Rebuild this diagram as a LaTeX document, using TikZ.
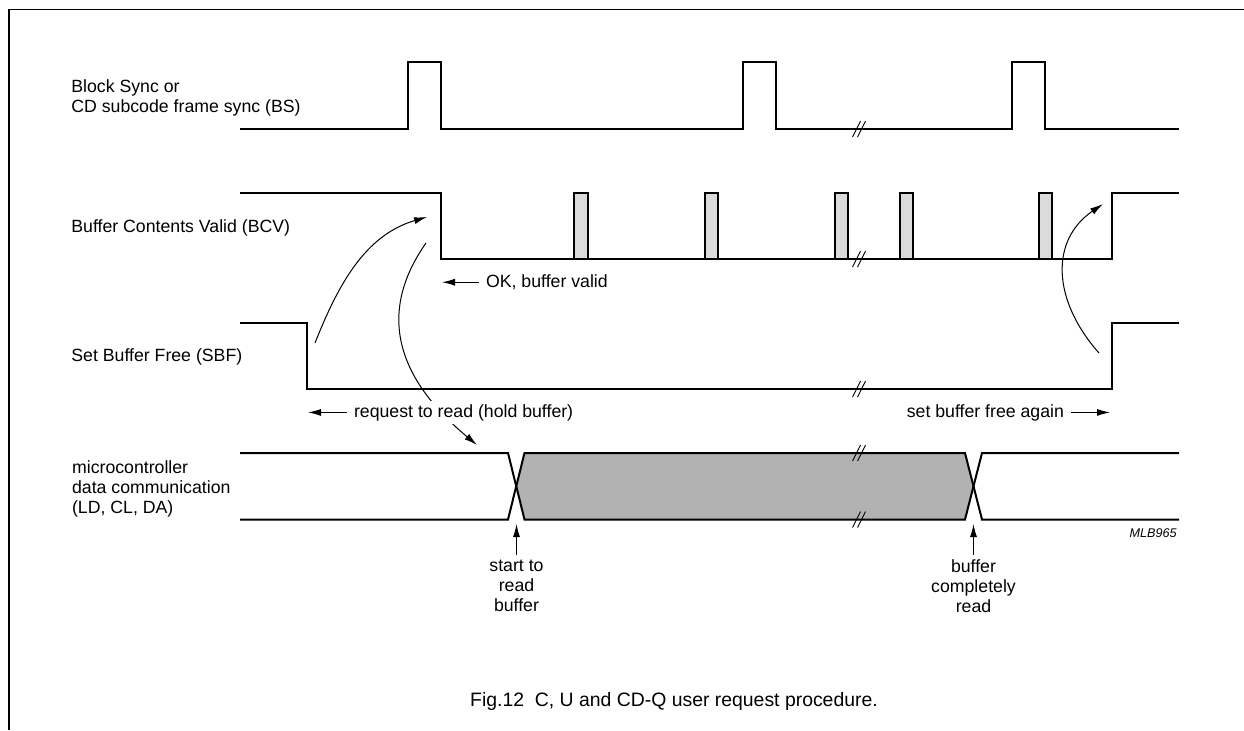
\documentclass[tikz,border=0pt]{standalone}
\usepackage{fontspec}
\setmainfont{Liberation Sans}
\usetikzlibrary{arrows.meta}
\definecolor{datagray}{gray}{0.70}
\definecolor{pulsegray}{gray}{0.86}
\begin{document}
\begin{tikzpicture}[x=0.5pt,y=-0.5pt,
  sig/.style={line width=1pt, line join=miter},
  arr/.style={line width=0.5pt,-{Latex[length=6.5pt,width=3.5pt]}},
  brk/.style={line width=0.45pt},
  lbl/.style={font=\fontsize{8.85pt}{10pt}\selectfont, inner sep=0pt, align=left},
  note/.style={font=\fontsize{8.85pt}{10pt}\selectfont},
  under/.style={font=\fontsize{8.85pt}{10pt}\selectfont, align=center, inner sep=2pt, anchor=north},
]
\useasboundingbox (0,0) rectangle (1244,730);
% frame
\draw[line width=0.7pt] (9,730) -- (9,9.3) -- (1244,9.3);

% signal labels
\node[lbl, anchor=north west] (lbs) at (71,79.3) {Block Sync or\\CD subcode frame sync (BS)};
\node[lbl, anchor=base west] (lbcv) at (71,232) {Buffer Contents Valid (BCV)};
\node[lbl, anchor=base west] (lsbf) at (71,361.7) {Set Buffer Free (SBF)};
\node[lbl, anchor=north west] (lmc) at (71.7,460.6) {microcontroller\\data communication\\(LD, CL, DA)};

% BS
\draw[sig] (240,129) -- (407.5,129) -- (407.5,62) -- (441,62) -- (441,129)
  -- (742.5,129) -- (742.5,62) -- (776,62) -- (776,129)
  -- (1012,129) -- (1012,62) -- (1045,62) -- (1045,129) -- (1179,129);

% BCV
\foreach \a/\b in {574/588, 705/718, 835/848, 900/913, 1038.5/1052}
  \draw[sig, fill=pulsegray] (\a,192.5) rectangle (\b,259);
\draw[sig] (240,192.5) -- (441,192.5) -- (441,259) -- (1112,259) -- (1112,192.5) -- (1179,192.5);

% SBF
\draw[sig] (240,323) -- (307,323) -- (307,389) -- (1112,389) -- (1112,323) -- (1179,323);

% data communication
\fill[datagray] (516,486) -- (524.5,453) -- (965,453) -- (973.5,486) -- (965,519.5) -- (524.5,519.5) -- cycle;
\draw[sig] (240,453) -- (508,453) -- (524.5,519.5) -- (965,519.5) -- (982,453) -- (1179,453);
\draw[sig] (240,519.5) -- (508,519.5) -- (524.5,453) -- (965,453) -- (982,519.5) -- (1179,519.5);

% break marks
\foreach \y in {129,259,389,453,519.5} {
  \draw[brk] (852.5,{\y+8}) -- (860.5,{\y-8});
  \draw[brk] (857.5,{\y+8}) -- (865.5,{\y-8});
}

% curved arrows
\coordinate (a1s) at (315,343);
\coordinate (a1e) at (427,217);
\draw[arr] (a1s) .. controls (338,285) and (365,235) .. (a1e);
\coordinate (a2s) at (426,243);
\coordinate (a2e) at (477,445);
\draw[arr] (a2s) .. controls (372,320) and (405,385) .. (a2e);
\coordinate (a3s) at (1099,353);
\coordinate (a3e) at (1103,204);
\draw[arr] (a3s) .. controls (1052,300) and (1050,240) .. (a3e);

% annotations with straight arrows
\coordinate (okt) at (442,283);
\node[note, anchor=base west] (ok) at (479,287.5) {OK, buffer valid};
\draw[arr] (ok.west) -- (ok.west -| okt);

\coordinate (reqt) at (308,412);
\node[note, anchor=base west, fill=white, inner ysep=1.5pt] (req) at (347,417) {request to read (hold buffer)};
\draw[arr] (req.west) -- (req.west -| reqt);

\coordinate (sbft) at (1110,413);
\node[note, anchor=base east] (sbfa) at (1071,417) {set buffer free again};
\draw[arr] (sbfa.east) -- (sbfa.east -| sbft);

\coordinate (stt) at (516.5,524);
\node[under] (st) at (516.5,555.3) {start to\\read\\buffer};
\draw[arr] (st.north) -- (st.north |- stt);

\coordinate (bct) at (973.5,524);
\node[under] (bc) at (973.5,555.1) {buffer\\completely\\read};
\draw[arr] (bc.north) -- (bc.north |- bct);

% figure code
\node[font=\fontsize{6.3pt}{7pt}\selectfont\itshape, anchor=base east, inner sep=0pt] (code) at (1177,537) {MLB965};

% caption
\node[font=\fontsize{9.7pt}{11pt}\selectfont, anchor=base, inner sep=0pt] (cap) at (674,706.7) {Fig.12\hspace{0.556em}C, U and CD-Q user request procedure.};
\end{tikzpicture}
\end{document}
